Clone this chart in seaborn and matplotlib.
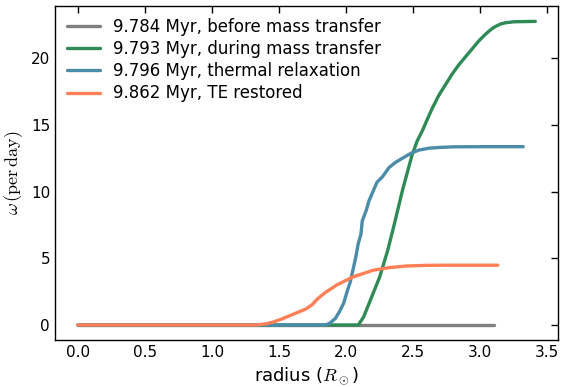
import matplotlib
matplotlib.use("Agg")
import matplotlib.pyplot as plt
import seaborn as sns
import pandas as pd

sns.set_style("white")
plt.rcParams["font.family"] = ["DejaVu Sans"]
plt.rcParams["mathtext.fontset"] = "cm"
plt.rcParams["text.color"] = "black"
plt.rcParams["axes.labelcolor"] = "black"

labels = [
    "9.784 Myr, before mass transfer",
    "9.793 Myr, during mass transfer",
    "9.796 Myr, thermal relaxation",
    "9.862 Myr, TE restored",
]
colors = ["#808080", "#2e8b57", "#4b8ca8", "#ff7f56"]

r_before = [0.0, 1.0, 2.0, 3.1]
w_before = [0.0, 0.0, 0.0, 0.0]

r_during = [0.0, 1.0, 2.0, 2.09, 2.13, 2.17, 2.21, 2.25, 2.31, 2.36, 2.42, 2.49,
            2.53, 2.57, 2.60, 2.64, 2.69, 2.74, 2.79, 2.84, 2.89, 2.94, 2.99,
            3.04, 3.08, 3.11, 3.15, 3.19, 3.25, 3.41]
w_during = [0.0, 0.0, 0.0, 0.0, 0.6, 1.6, 2.6, 3.6, 5.6, 7.6, 10.1, 12.7,
            13.8, 14.6, 15.3, 16.2, 17.2, 18.0, 18.8, 19.5, 20.1, 20.7, 21.3,
            21.8, 22.15, 22.35, 22.55, 22.65, 22.72, 22.75]

r_relax = [0.0, 1.0, 1.5, 1.85, 1.88, 1.92, 1.95, 1.98, 2.01, 2.03, 2.05, 2.07,
           2.09, 2.11, 2.12, 2.15, 2.17, 2.20, 2.23, 2.27, 2.32, 2.37, 2.42,
           2.48, 2.54, 2.62, 2.69, 2.80, 3.0, 3.32]
w_relax = [0.0, 0.0, 0.0, 0.0, 0.15, 0.5, 1.0, 1.6, 2.6, 3.2, 4.1, 5.0,
           6.1, 6.8, 7.8, 8.6, 9.3, 10.0, 10.7, 11.1, 11.8, 12.2, 12.5,
           12.85, 13.1, 13.25, 13.3, 13.35, 13.36, 13.36]

r_te = [0.0, 1.0, 1.33, 1.40, 1.45, 1.52, 1.58, 1.64, 1.70, 1.75, 1.78, 1.84,
        1.93, 2.05, 2.20, 2.32, 2.45, 2.60, 2.80, 3.13]
w_te = [0.0, 0.0, 0.0, 0.08, 0.2, 0.45, 0.7, 0.95, 1.2, 1.55, 1.9, 2.4,
        3.0, 3.6, 4.1, 4.3, 4.42, 4.47, 4.48, 4.48]

frames = []
for lab, r, w in zip(labels, [r_before, r_during, r_relax, r_te],
                     [w_before, w_during, w_relax, w_te]):
    frames.append(pd.DataFrame({"radius": r, "omega": w, "model": lab}))
df = pd.concat(frames, ignore_index=True)

fig = plt.figure(figsize=(5.61, 3.87), dpi=100)
ax = fig.add_axes([0.098, 0.121, 0.897, 0.863])
sns.lineplot(data=df, x="radius", y="omega", hue="model", hue_order=labels,
             palette=colors, sort=False, estimator=None, linewidth=2.4, ax=ax)

ax.set_xticks([0.0, 0.5, 1.0, 1.5, 2.0, 2.5, 3.0, 3.5])
ax.set_yticks([0, 5, 10, 15, 20])
ax.tick_params(direction="in", top=True, right=True, labelsize=11,
               length=5, width=1, colors="black")
ax.set_xlabel(r"radius ($R_\odot$)", fontsize=13)
ax.set_ylabel(r"$\omega\,(\mathrm{per\,day})$", fontsize=13)
for s in ax.spines.values():
    s.set_color("black")
    s.set_linewidth(1)
leg = ax.legend(loc="upper left", frameon=False, fontsize=12,
                handlelength=2.0, borderaxespad=0.3, labelspacing=0.25)
ax.margins(x=0.05, y=0.05)

fig.savefig("out.png", dpi=100)
